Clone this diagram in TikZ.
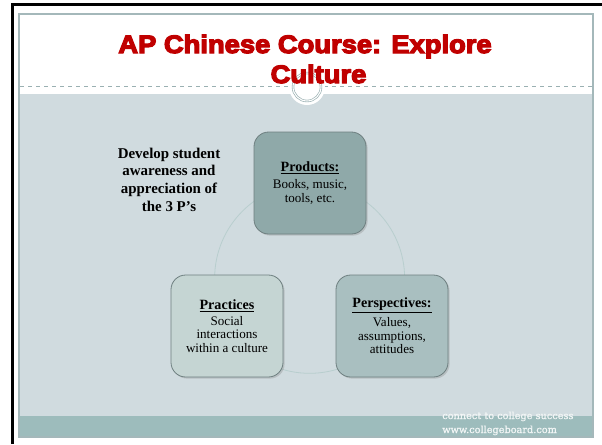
\documentclass[tikz,border=0pt]{standalone}
\usepackage{fontspec}
\setmainfont{Liberation Serif}
\newfontfamily\titlefont[UprightFont=* Bold, FakeBold=5, FakeStretch=1.085]{Liberation Sans}
\newfontfamily\footfont[FakeBold=1]{DejaVu Serif}
\usetikzlibrary{calc, positioning, shadows}

\definecolor{slideBg}{HTML}{D0DBDF}
\definecolor{footBand}{HTML}{9DBCBC}
\definecolor{frameEdge}{HTML}{A4B8BA}
\definecolor{dashGray}{HTML}{9AB0B2}
\definecolor{titleRed}{HTML}{C00000}
\definecolor{boxEdge}{HTML}{6E7F80}
\definecolor{cycleLine}{HTML}{B8CECE}
\definecolor{prodFill}{HTML}{8FA9A9}
\definecolor{persFill}{HTML}{A9BFC0}
\definecolor{pracFill}{HTML}{C5D5D3}
\definecolor{footInk}{HTML}{F2F6F6}

\newcommand{\phead}[1]{{\fontsize{10.6}{12}\selectfont\bfseries\underline{#1}}}

\tikzset{
  pbox/.style={draw=boxEdge, line width=0.6pt, rounded corners=11pt,
    minimum width=84pt, minimum height=76.5pt, align=center,
    font=\fontsize{9.8}{10.2}\selectfont,
    drop shadow={shadow xshift=1.2pt, shadow yshift=-1.2pt, opacity=0.3}},
  ring/.style={draw=cycleLine, line width=0.6pt},
  titletext/.style={text=titleRed, anchor=base, inner sep=0pt,
    font=\titlefont\fontsize{18.9}{22.5}\selectfont},
  foottext/.style={text=footInk, anchor=base west, inner sep=0pt,
    font=\footfont\fontsize{7.3}{8}\selectfont}
}

\begin{document}
\begin{tikzpicture}[x=0.75pt, y=-0.75pt]
  \useasboundingbox (0,0) rectangle (602,444);

  % slide frame, content area and footer band
  \draw[frameEdge, fill=white, line width=0.8pt] (19,14) rectangle (593,437);
  \fill[slideBg] (20,94) rectangle (592,416);
  \fill[footBand] (20,416) rectangle (592,436);
  \draw[dashGray, dashed, line width=0.6pt] (20,86) -- (592,86);
  \draw[line width=2.25pt] (12,444) -- (12,4) -- (602,4);

  % badge under the title
  \coordinate (badge) at (307,87);
  \fill[white] (badge) circle[radius=13.5pt];
  \draw[dashGray, double=white, double distance=0.8pt, line width=0.5pt] (badge) circle[radius=10.5pt];

  \node[titletext] (title) at (305,53) {AP Chinese Course: Explore};
  \node[titletext] (titleTail) at (318.5,83) {Culture};

  % the three P's on a cycle
  \coordinate (prod) at (310,183);
  \coordinate (prac) at (227,326);
  \coordinate (pers) at (392,326);
  \coordinate (hub) at ($0.3333*(prod)+0.3333*(prac)+0.3333*(pers)$);
  \draw[ring] (hub) circle[radius=71.25pt];

  \node[pbox, fill=prodFill] (products) at (prod) {\phead{Products:}\\[3pt]Books, music,\\tools, etc.};
  \node[pbox, fill=pracFill] (practices) at (prac) {\phead{Practices}\\[2pt]Social\\interactions\\within a culture};
  \node[pbox, fill=persFill] (perspectives) at (pers) {\phead{Perspectives:}\\[2pt]Values,\\assumptions,\\attitudes};

  \node[align=center, font=\bfseries\fontsize{11.2}{13.3}\selectfont] (goal) at (169,179.5)
    {Develop student\\awareness and\\appreciation of\\the 3 P’s};

  \node[foottext] (footer) at (442,419) {connect to college success};
  \node[foottext] (footerUrl) at (442,433) {www.collegeboard.com};
\end{tikzpicture}
\end{document}
